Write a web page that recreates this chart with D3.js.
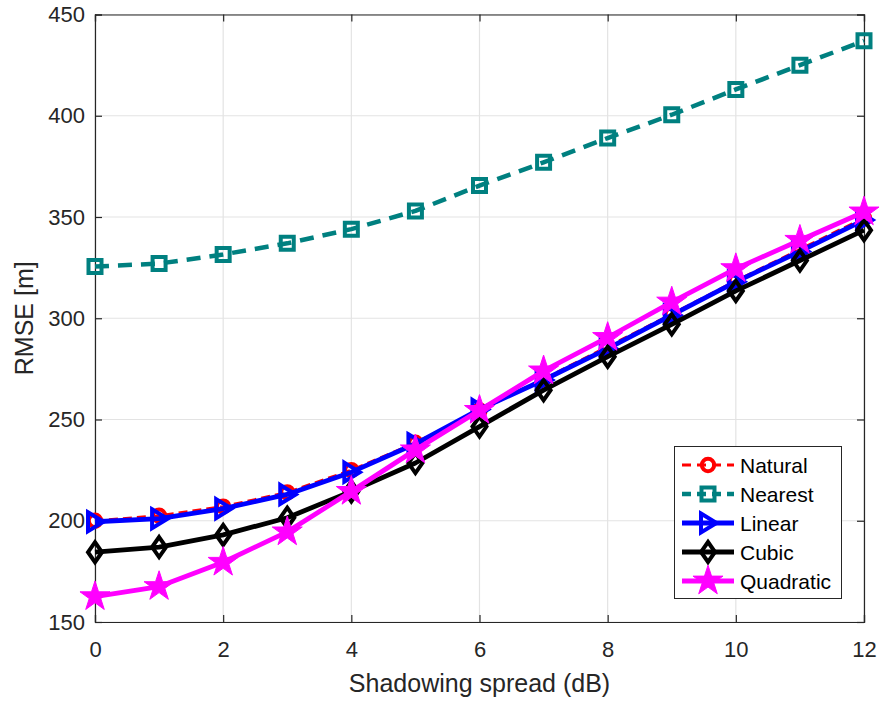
<!DOCTYPE html>
<html>
<head>
<meta charset="utf-8">
<script src="https://cdn.jsdelivr.net/npm/d3@7"></script>
<style>
  body { margin: 0; background: #fff; }
  text { font-family: "Liberation Sans", Arial, Helvetica, sans-serif; }
</style>
</head>
<body>
<svg id="chart" width="880" height="701"></svg>
<script>
// spread values (dB)
const spread = [0, 1, 2, 3, 4, 5, 6, 7, 8, 9, 10, 11, 12];

// RMSE per interpolation method
const natural   = [200, 202.5, 207, 214, 225, 238.5, 254.5, 270, 286, 302, 318.5, 334, 349.5];
const nearest   = [325.5, 327, 331.5, 337, 344, 353, 365.5, 377, 389, 400.5, 413, 425, 437];
const linear    = [199.5, 201, 206, 213, 224, 238, 255, 269.5, 285, 301.5, 318, 333, 348.5];
const cubic     = [184.5, 187, 193, 201.5, 214.5, 228.5, 246.5, 264.5, 281, 297, 313.5, 328.5, 343.5];
const quadratic = [162.5, 167.5, 179.5, 194.5, 214.5, 235, 254.5, 274, 290.5, 308, 324.5, 338.5, 352.5];

const xTicks = [0, 2, 4, 6, 8, 10, 12];
const yTicks = [150, 200, 250, 300, 350, 400, 450];

const series = [
  { name: 'Natural',   values: natural,   color: '#ff0000', dash: '9,5',  width: 2.8, marker: 'circle' },
  { name: 'Nearest',   values: nearest,   color: '#008080', dash: '14,9', width: 4.5, marker: 'square' },
  { name: 'Linear',    values: linear,    color: '#0000ff', dash: null,   width: 4.8, marker: 'triangle' },
  { name: 'Cubic',     values: cubic,     color: '#000000', dash: null,   width: 4.8, marker: 'diamond' },
  { name: 'Quadratic', values: quadratic, color: '#ff00ff', dash: null,   width: 4.8, marker: 'star' }
];

const margin = { left: 95, right: 16, top: 14.5, bottom: 79 };
const width = 880, height = 701;
const svg = d3.select('#chart');

const x = d3.scaleLinear().domain([0, 12]).range([margin.left, width - margin.right]);
const y = d3.scaleLinear().domain([150, 450]).range([height - margin.bottom, margin.top]);

const textColor = '#262626';
const axisColor = '#262626';

// grid
const grid = svg.append('g');
grid.selectAll('line.vx').data(xTicks).enter().append('line')
  .attr('x1', d => x(d)).attr('x2', d => x(d))
  .attr('y1', y.range()[1]).attr('y2', y.range()[0])
  .attr('stroke', '#e3e3e3').attr('stroke-width', 1.2);
grid.selectAll('line.hy').data(yTicks).enter().append('line')
  .attr('y1', d => y(d)).attr('y2', d => y(d))
  .attr('x1', x.range()[0]).attr('x2', x.range()[1])
  .attr('stroke', '#e3e3e3').attr('stroke-width', 1.2);

// axes (ticks pointing inward, box on)
const xAxis = d3.axisBottom(x).tickValues(xTicks).tickSize(-7).tickPadding(19);
const yAxis = d3.axisLeft(y).tickValues(yTicks).tickSize(-7).tickPadding(10);

const gx = svg.append('g').attr('transform', `translate(0,${y.range()[0]})`).call(xAxis);
const gy = svg.append('g').attr('transform', `translate(${x.range()[0]},0)`).call(yAxis);
const gxTop = svg.append('g').attr('transform', `translate(0,${y.range()[1]})`)
  .call(d3.axisTop(x).tickValues(xTicks).tickSize(-7).tickFormat(''));
const gyRight = svg.append('g').attr('transform', `translate(${x.range()[1]},0)`)
  .call(d3.axisRight(y).tickValues(yTicks).tickSize(-7).tickFormat(''));

[gx, gy, gxTop, gyRight].forEach(g => {
  g.select('.domain').attr('stroke', axisColor).attr('stroke-width', 1.2);
  g.selectAll('.tick line').attr('stroke', axisColor).attr('stroke-width', 1.2);
  g.selectAll('.tick text').attr('fill', textColor).style('font-size', '22px')
    .style('font-family', '"Liberation Sans", Arial, sans-serif');
});

// axis labels
svg.append('text')
  .attr('x', (x.range()[0] + x.range()[1]) / 2).attr('y', 692)
  .attr('text-anchor', 'middle').attr('fill', textColor).style('font-size', '25px')
  .text('Shadowing spread (dB)');
svg.append('text')
  .attr('transform', `translate(33,${(y.range()[0] + y.range()[1]) / 2}) rotate(-90)`)
  .attr('text-anchor', 'middle').attr('fill', textColor).style('font-size', '25px')
  .text('RMSE [m]');

// marker paths centred on 0,0
function markerPath(type) {
  switch (type) {
    case 'circle':   return d3.symbol(d3.symbolCircle, 120)();
    case 'square':   return 'M-6.5,-6.5H6.5V6.5H-6.5Z';
    case 'triangle': return 'M-7,-9.5L8.5,0L-7,9.5Z';
    case 'diamond':  return 'M0,-10L7,0L0,10L-7,0Z';
    case 'star':     return d3.symbol(d3.symbolStar, 280)();
  }
}

function drawMarker(g, s, px, py) {
  const star = s.marker === 'star';
  g.append('path')
    .attr('d', markerPath(s.marker))
    .attr('transform', `translate(${px},${py})`)
    .attr('fill', star ? s.color : 'none')
    .attr('stroke', s.color)
    .attr('stroke-width', star ? 1 : 4)
    .attr('stroke-linejoin', 'miter');
}

const line = d3.line().x((d, i) => x(spread[i])).y(d => y(d));

const plot = svg.append('g');
series.forEach(s => {
  plot.append('path')
    .datum(s.values)
    .attr('d', line)
    .attr('fill', 'none')
    .attr('stroke', s.color)
    .attr('stroke-width', s.width)
    .attr('stroke-dasharray', s.dash)
    .attr('stroke-linejoin', 'round');
  const mg = plot.append('g');
  s.values.forEach((v, i) => drawMarker(mg, s, x(spread[i]), y(v)));
});

// legend
const legend = svg.append('g');
legend.append('rect')
  .attr('x', 674.5).attr('y', 446.5).attr('width', 167).attr('height', 152)
  .attr('fill', '#fff').attr('stroke', '#262626').attr('stroke-width', 1);
series.forEach((s, i) => {
  const ly = 465 + i * 29;
  legend.append('line')
    .attr('x1', 682).attr('x2', 734).attr('y1', ly).attr('y2', ly)
    .attr('stroke', s.color).attr('stroke-width', s.width)
    .attr('stroke-dasharray', s.dash ? '9,6' : null);
  drawMarker(legend, s, 708, ly);
  legend.append('text')
    .attr('x', 740).attr('y', ly + 7.5)
    .attr('fill', '#000').style('font-size', '21px')
    .text(s.name);
});
</script>
</body>
</html>
